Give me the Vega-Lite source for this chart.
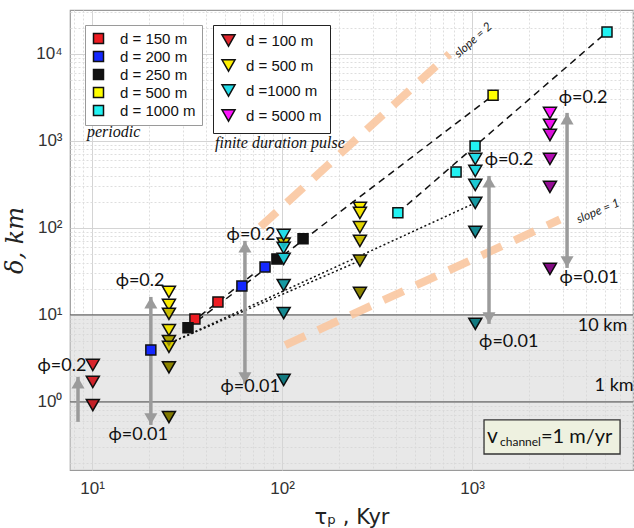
{
  "$schema": "https://vega.github.io/schema/vega-lite/v6.json",
  "width": 563,
  "height": 460,
  "autosize": "none",
  "padding": {"left": 70, "top": 10, "right": 1, "bottom": 58},
  "background": "white",
  "config": {
    "view": {"stroke": "#9a9a9a", "strokeWidth": 1.2},
    "font": "Liberation Sans"
  },
  "datasets": {
    "band": [{"zone": "below 10 km", "lo": 0.1, "hi": 10}],
    "levels": [{"level": 10}, {"level": 1}],
    "refs": [
      {"ref": "slope 2", "tau": 77, "delta": 103},
      {"ref": "slope 2", "tau": 760, "delta": 10000},
      {"ref": "slope 1", "tau": 104, "delta": 4.5},
      {"ref": "slope 1", "tau": 2900, "delta": 125}
    ],
    "fits": [
      {"fit": "A", "kind": "dashed", "tau": 32, "delta": 7.1},
      {"fit": "A", "kind": "dashed", "tau": 1290, "delta": 3350},
      {"fit": "R", "kind": "dashed", "tau": 33, "delta": 8.0},
      {"fit": "R", "kind": "dashed", "tau": 70, "delta": 29},
      {"fit": "B", "kind": "dashed", "tau": 407, "delta": 149},
      {"fit": "B", "kind": "dashed", "tau": 5130, "delta": 17900},
      {"fit": "D1", "kind": "dotted", "tau": 26, "delta": 4.8},
      {"fit": "D1", "kind": "dotted", "tau": 1040, "delta": 194},
      {"fit": "D2", "kind": "dotted", "tau": 26, "delta": 4.8},
      {"fit": "D2", "kind": "dotted", "tau": 257, "delta": 42}
    ],
    "arrows": [
      {"tau": 8.44, "lo": 0.59, "hi": 1.94},
      {"tau": 20.4, "lo": 0.544, "hi": 16.1},
      {"tau": 63.8, "lo": 1.61, "hi": 71},
      {"tau": 1228, "lo": 7.88, "hi": 396},
      {"tau": 3162, "lo": 34.7, "hi": 2100}
    ],
    "heads": [
      {"tau": 8.44, "delta": 1.94, "dir": "up"},
      {"tau": 20.4, "delta": 16.1, "dir": "up"},
      {"tau": 63.8, "delta": 71, "dir": "up"},
      {"tau": 1228, "delta": 396, "dir": "up"},
      {"tau": 3162, "delta": 2100, "dir": "up"},
      {"tau": 20.4, "delta": 0.544, "dir": "down"},
      {"tau": 63.8, "delta": 1.61, "dir": "down"},
      {"tau": 1228, "delta": 7.88, "dir": "down"},
      {"tau": 3162, "delta": 34.7, "dir": "down"}
    ],
    "periodic": [
      {"series": "d = 150 m", "tau": 34.8, "delta": 9.0},
      {"series": "d = 150 m", "tau": 46, "delta": 14.1},
      {"series": "d = 200 m", "tau": 20.4, "delta": 3.96},
      {"series": "d = 200 m", "tau": 61.5, "delta": 21.5},
      {"series": "d = 200 m", "tau": 81.4, "delta": 35.6},
      {"series": "d = 250 m", "tau": 32, "delta": 7.1},
      {"series": "d = 250 m", "tau": 94, "delta": 44},
      {"series": "d = 250 m", "tau": 129, "delta": 75},
      {"series": "d = 500 m", "tau": 1290, "delta": 3350},
      {"series": "d = 1000 m", "tau": 407, "delta": 149},
      {"series": "d = 1000 m", "tau": 824, "delta": 440},
      {"series": "d = 1000 m", "tau": 1037, "delta": 877},
      {"series": "d = 1000 m", "tau": 5130, "delta": 17900}
    ],
    "pulse": [
      {"series": "d = 100 m", "tau": 10.1, "delta": 2.66, "phiRank": 0.3},
      {"series": "d = 100 m", "tau": 10.1, "delta": 1.7, "phiRank": 0.5},
      {"series": "d = 100 m", "tau": 10.1, "delta": 0.92, "phiRank": 0.9},
      {"series": "d = 500 m", "tau": 25.4, "delta": 18.4, "phiRank": 0},
      {"series": "d = 500 m", "tau": 25.4, "delta": 13.0, "phiRank": 0.2},
      {"series": "d = 500 m", "tau": 25.4, "delta": 10.3, "phiRank": 1.5},
      {"series": "d = 500 m", "tau": 25.4, "delta": 6.7, "phiRank": 0.4},
      {"series": "d = 500 m", "tau": 25.4, "delta": 5.0, "phiRank": 2.2},
      {"series": "d = 500 m", "tau": 25.4, "delta": 4.3, "phiRank": 1.0},
      {"series": "d = 500 m", "tau": 25.4, "delta": 2.5, "phiRank": 3},
      {"series": "d = 500 m", "tau": 25.4, "delta": 0.67, "phiRank": 3.3},
      {"series": "d = 500 m", "tau": 102, "delta": 66, "phiRank": 1},
      {"series": "d = 500 m", "tau": 257, "delta": 170, "phiRank": 0},
      {"series": "d = 500 m", "tau": 257, "delta": 149, "phiRank": 0.3},
      {"series": "d = 500 m", "tau": 257, "delta": 102, "phiRank": 0.8},
      {"series": "d = 500 m", "tau": 257, "delta": 71, "phiRank": 1.5},
      {"series": "d = 500 m", "tau": 257, "delta": 42, "phiRank": 2.5},
      {"series": "d = 500 m", "tau": 257, "delta": 17.9, "phiRank": 3},
      {"series": "d =1000 m", "tau": 102, "delta": 83, "phiRank": 0},
      {"series": "d =1000 m", "tau": 102, "delta": 59, "phiRank": 0.2},
      {"series": "d =1000 m", "tau": 102, "delta": 44, "phiRank": 0.6},
      {"series": "d =1000 m", "tau": 102, "delta": 22, "phiRank": 2},
      {"series": "d =1000 m", "tau": 102, "delta": 10.5, "phiRank": 2.5},
      {"series": "d =1000 m", "tau": 102, "delta": 1.79, "phiRank": 3},
      {"series": "d =1000 m", "tau": 1040, "delta": 621, "phiRank": 0},
      {"series": "d =1000 m", "tau": 1040, "delta": 452, "phiRank": 0.2},
      {"series": "d =1000 m", "tau": 1040, "delta": 312, "phiRank": 0.6},
      {"series": "d =1000 m", "tau": 1040, "delta": 194, "phiRank": 2},
      {"series": "d =1000 m", "tau": 1040, "delta": 90, "phiRank": 2.5},
      {"series": "d =1000 m", "tau": 1040, "delta": 7.9, "phiRank": 3},
      {"series": "d = 5000 m", "tau": 2570, "delta": 2100, "phiRank": 0},
      {"series": "d = 5000 m", "tau": 2570, "delta": 1530, "phiRank": 0.4},
      {"series": "d = 5000 m", "tau": 2570, "delta": 1170, "phiRank": 1},
      {"series": "d = 5000 m", "tau": 2570, "delta": 621, "phiRank": 2},
      {"series": "d = 5000 m", "tau": 2570, "delta": 296, "phiRank": 2.8},
      {"series": "d = 5000 m", "tau": 2570, "delta": 33.8, "phiRank": 3.3}
    ],
    "notes": [
      {"tau": 6.95, "delta": 2.59, "label": "ϕ=0.2"},
      {"tau": 17.9, "delta": 24.6, "label": "ϕ=0.2"},
      {"tau": 17.5, "delta": 0.418, "label": "ϕ=0.01"},
      {"tau": 68.7, "delta": 83, "label": "ϕ=0.2"},
      {"tau": 68, "delta": 1.49, "label": "ϕ=0.01"},
      {"tau": 1566, "delta": 605, "label": "ϕ=0.2"},
      {"tau": 1560, "delta": 4.9, "label": "ϕ=0.01"},
      {"tau": 3840, "delta": 3120, "label": "ϕ=0.2"},
      {"tau": 4130, "delta": 26.6, "label": "ϕ=0.01"},
      {"tau": 4860, "delta": 7.47, "label": "10 km"},
      {"tau": 5590, "delta": 1.53, "label": "1 km"}
    ]
  },
  "layer": [
    {
      "data": {"name": "band"},
      "mark": {"type": "rect", "fill": "#d6d6d6", "opacity": 0.55, "clip": true},
      "encoding": {
        "y": {
          "field": "lo",
          "type": "quantitative",
          "scale": {"type": "log", "domain": [0.165, 32000], "nice": false},
          "axis": {
            "values": [0.2, 0.3, 0.4, 0.5, 0.6, 0.7, 0.8, 0.9, 1, 2, 3, 4, 5, 6, 7, 8, 9, 10, 20, 30, 40, 50, 60, 70, 80, 90, 100, 200, 300, 400, 500, 600, 700, 800, 900, 1000, 2000, 3000, 4000, 5000, 6000, 7000, 8000, 9000, 10000, 20000, 30000],
            "labelExpr": "datum.value == 1 ? '10⁰' : datum.value == 10 ? '10¹' : datum.value == 100 ? '10²' : datum.value == 1000 ? '10³' : datum.value == 10000 ? '10⁴' : ''",
            "labelFont": "Liberation Sans",
            "labelFontSize": 17,
            "labelColor": "#333",
            "labelPadding": 8,
            "labelFlush": false,
            "labelOverlap": false,
            "domain": false,
            "ticks": false,
            "grid": true,
            "gridColor": {"condition": {"test": "abs(log(datum.value)/LN10 - round(log(datum.value)/LN10)) < 0.000001", "value": "#d4d4d4"}, "value": "#dedede"},
            "gridDash": {"condition": {"test": "abs(log(datum.value)/LN10 - round(log(datum.value)/LN10)) < 0.000001", "value": []}, "value": [2, 2]},
            "title": "δ, km",
            "titleFont": "DejaVu Serif",
            "titleFontSize": 24,
            "titleFontWeight": "normal",
            "titleFontStyle": "italic",
            "titleColor": "#222",
            "titlePadding": 8
          }
        },
        "y2": {"field": "hi"}
      }
    },
    {
      "data": {"name": "levels"},
      "mark": {"type": "rule", "color": "#6a6a6a", "strokeWidth": 1.3},
      "encoding": {"y": {"field": "level", "type": "quantitative"}}
    },
    {
      "data": {"name": "refs"},
      "mark": {"type": "line", "color": "#f9c7a0", "strokeWidth": 8, "strokeDash": [22, 14], "opacity": 0.9, "strokeCap": "butt"},
      "encoding": {
        "x": {
          "field": "tau",
          "type": "quantitative",
          "scale": {"type": "log", "domain": [7.66, 7030], "nice": false},
          "axis": {
            "values": [8, 9, 10, 20, 30, 40, 50, 60, 70, 80, 90, 100, 200, 300, 400, 500, 600, 700, 800, 900, 1000, 2000, 3000, 4000, 5000, 6000, 7000],
            "labelExpr": "datum.value == 10 ? '10¹' : datum.value == 100 ? '10²' : datum.value == 1000 ? '10³' : ''",
            "labelFont": "Liberation Sans",
            "labelFontSize": 17,
            "labelColor": "#333",
            "labelPadding": 10,
            "labelFlush": false,
            "labelOverlap": false,
            "domain": false,
            "ticks": false,
            "grid": true,
            "gridColor": {"condition": {"test": "abs(log(datum.value)/LN10 - round(log(datum.value)/LN10)) < 0.000001", "value": "#d4d4d4"}, "value": "#dedede"},
            "gridDash": {"condition": {"test": "abs(log(datum.value)/LN10 - round(log(datum.value)/LN10)) < 0.000001", "value": []}, "value": [2, 2]},
            "title": "τₚ , Kyr",
            "titleFont": "DejaVu Sans",
            "titleFontSize": 21,
            "titleFontWeight": "normal",
            "titleColor": "#222",
            "titlePadding": 10
          }
        },
        "y": {"field": "delta", "type": "quantitative"},
        "detail": {"field": "ref"}
      }
    },
    {
      "data": {"name": "fits"},
      "mark": {"type": "line", "color": "#111", "strokeWidth": 1.5},
      "encoding": {
        "x": {"field": "tau", "type": "quantitative"},
        "y": {"field": "delta", "type": "quantitative"},
        "detail": {"field": "fit"},
        "strokeDash": {"field": "kind", "type": "nominal", "scale": {"domain": ["dashed", "dotted"], "range": [[7, 5], [2, 2.5]]}, "legend": null}
      }
    },
    {
      "data": {"name": "arrows"},
      "mark": {"type": "rule", "color": "#9b9b9b", "strokeWidth": 3.5},
      "encoding": {
        "x": {"field": "tau", "type": "quantitative"},
        "y": {"field": "lo", "type": "quantitative"},
        "y2": {"field": "hi"}
      }
    },
    {
      "data": {"name": "heads"},
      "transform": [{"filter": "datum.dir == 'up'"}],
      "mark": {"type": "point", "shape": "triangle-up", "filled": true, "color": "#9b9b9b", "opacity": 1, "size": 170, "yOffset": 6},
      "encoding": {
        "x": {"field": "tau", "type": "quantitative"},
        "y": {"field": "delta", "type": "quantitative"}
      }
    },
    {
      "data": {"name": "heads"},
      "transform": [{"filter": "datum.dir == 'down'"}],
      "mark": {"type": "point", "shape": "triangle-down", "filled": true, "color": "#9b9b9b", "opacity": 1, "size": 170, "yOffset": -6},
      "encoding": {
        "x": {"field": "tau", "type": "quantitative"},
        "y": {"field": "delta", "type": "quantitative"}
      }
    },
    {
      "data": {"name": "periodic"},
      "mark": {"type": "point", "shape": "square", "filled": true, "stroke": "#111", "strokeWidth": 1.5, "size": 100, "opacity": 1},
      "encoding": {
        "x": {"field": "tau", "type": "quantitative"},
        "y": {"field": "delta", "type": "quantitative"},
        "fill": {
          "field": "series",
          "type": "nominal",
          "scale": {"domain": ["d = 150 m", "d = 200 m", "d = 250 m", "d = 500 m", "d = 1000 m"], "range": ["#ee1c22", "#1428ff", "#111111", "#ffff00", "#22f2f2"]},
          "legend": {
            "orient": "none",
            "legendX": 15,
            "legendY": 15,
            "title": null,
            "symbolType": "square",
            "symbolSize": 100,
            "symbolStrokeColor": "#111",
            "symbolStrokeWidth": 1.5,
            "symbolOpacity": 1,
            "labelFont": "Liberation Sans",
            "labelFontSize": 15,
            "labelColor": "#111",
            "labelOffset": 14,
            "padding": 6,
            "rowPadding": 1,
            "strokeColor": "#9a9a9a",
            "fillColor": "white"
          }
        }
      }
    },
    {
      "data": {"name": "pulse"},
      "mark": {"type": "point", "shape": "triangle-down", "filled": true, "stroke": "#111", "strokeWidth": 1.5, "size": 170, "opacity": 1},
      "encoding": {
        "x": {"field": "tau", "type": "quantitative"},
        "y": {"field": "delta", "type": "quantitative"},
        "fill": {
          "field": "series",
          "type": "nominal",
          "scale": {"domain": ["d = 100 m", "d = 500 m", "d =1000 m", "d = 5000 m"], "range": ["#e2262e", "#fff000", "#22dce8", "#ff14ff"]},
          "legend": {
            "orient": "none",
            "legendX": 143,
            "legendY": 15,
            "title": null,
            "symbolType": "triangle-down",
            "symbolSize": 170,
            "symbolStrokeColor": "#111",
            "symbolStrokeWidth": 1.5,
            "symbolOpacity": 1,
            "labelFont": "Liberation Sans",
            "labelFontSize": 15,
            "labelColor": "#111",
            "labelOffset": 10,
            "padding": 8,
            "rowPadding": 6,
            "strokeColor": "#222",
            "fillColor": "white"
          }
        }
      }
    },
    {
      "data": {"name": "pulse"},
      "mark": {"type": "point", "shape": "triangle-down", "filled": true, "color": "black", "size": 170, "strokeWidth": 0},
      "encoding": {
        "x": {"field": "tau", "type": "quantitative"},
        "y": {"field": "delta", "type": "quantitative"},
        "opacity": {"field": "phiRank", "type": "quantitative", "scale": {"domain": [0, 4], "range": [0, 0.6]}, "legend": null}
      }
    },
    {
      "data": {"name": "notes"},
      "mark": {"type": "text", "font": "Lato", "fontSize": 18, "color": "#111", "align": "center", "baseline": "middle"},
      "encoding": {
        "x": {"field": "tau", "type": "quantitative"},
        "y": {"field": "delta", "type": "quantitative"},
        "text": {"field": "label"}
      }
    },
    {
      "data": {"values": [{"tau": 1012, "delta": 14500, "label": "slope = 2"}]},
      "mark": {"type": "text", "font": "Lato", "fontStyle": "italic", "fontSize": 12, "color": "#222", "angle": -42, "align": "center", "baseline": "middle"},
      "encoding": {
        "x": {"field": "tau", "type": "quantitative"},
        "y": {"field": "delta", "type": "quantitative"},
        "text": {"field": "label"}
      }
    },
    {
      "data": {"values": [{"tau": 4600, "delta": 157, "label": "slope = 1"}]},
      "mark": {"type": "text", "font": "Lato", "fontStyle": "italic", "fontSize": 12, "color": "#222", "angle": -23, "align": "center", "baseline": "middle"},
      "encoding": {
        "x": {"field": "tau", "type": "quantitative"},
        "y": {"field": "delta", "type": "quantitative"},
        "text": {"field": "label"}
      }
    },
    {
      "data": {"values": [{"tau": 9.41, "delta": 1268, "label": "periodic"}, {"tau": 44.4, "delta": 948, "label": "finite duration pulse"}]},
      "mark": {"type": "text", "font": "Liberation Serif", "fontStyle": "italic", "fontSize": 16, "color": "#111", "align": "left", "baseline": "middle"},
      "encoding": {
        "x": {"field": "tau", "type": "quantitative"},
        "y": {"field": "delta", "type": "quantitative"},
        "text": {"field": "label"}
      }
    },
    {
      "data": {"values": [{"box": "velocity", "x0": 1156, "x1": 6010, "y0": 0.252, "y1": 0.621}]},
      "mark": {"type": "rect", "fill": "#eef1e0", "stroke": "#333", "strokeWidth": 1.3},
      "encoding": {
        "x": {"field": "x0", "type": "quantitative"},
        "x2": {"field": "x1"},
        "y": {"field": "y0", "type": "quantitative"},
        "y2": {"field": "y1"}
      }
    },
    {
      "data": {"values": [{"tau": 1213, "delta": 0.396, "label": "v"}]},
      "mark": {"type": "text", "font": "Lato", "fontSize": 21, "color": "#111", "align": "left", "baseline": "middle", "dx": -1},
      "encoding": {
        "x": {"field": "tau", "type": "quantitative"},
        "y": {"field": "delta", "type": "quantitative"},
        "text": {"field": "label"}
      }
    },
    {
      "data": {"values": [{"tau": 1213, "delta": 0.396, "label": "channel"}]},
      "mark": {"type": "text", "font": "Lato", "fontSize": 12, "color": "#111", "align": "left", "baseline": "middle", "dx": 12, "dy": 5},
      "encoding": {
        "x": {"field": "tau", "type": "quantitative"},
        "y": {"field": "delta", "type": "quantitative"},
        "text": {"field": "label"}
      }
    },
    {
      "data": {"values": [{"tau": 1213, "delta": 0.396, "label": "=1 m/yr"}]},
      "mark": {"type": "text", "font": "Lato", "fontSize": 20, "color": "#111", "align": "left", "baseline": "middle", "dx": 53},
      "encoding": {
        "x": {"field": "tau", "type": "quantitative"},
        "y": {"field": "delta", "type": "quantitative"},
        "text": {"field": "label"}
      }
    }
  ],
  "resolve": {"scale": {"fill": "independent"}}
}
